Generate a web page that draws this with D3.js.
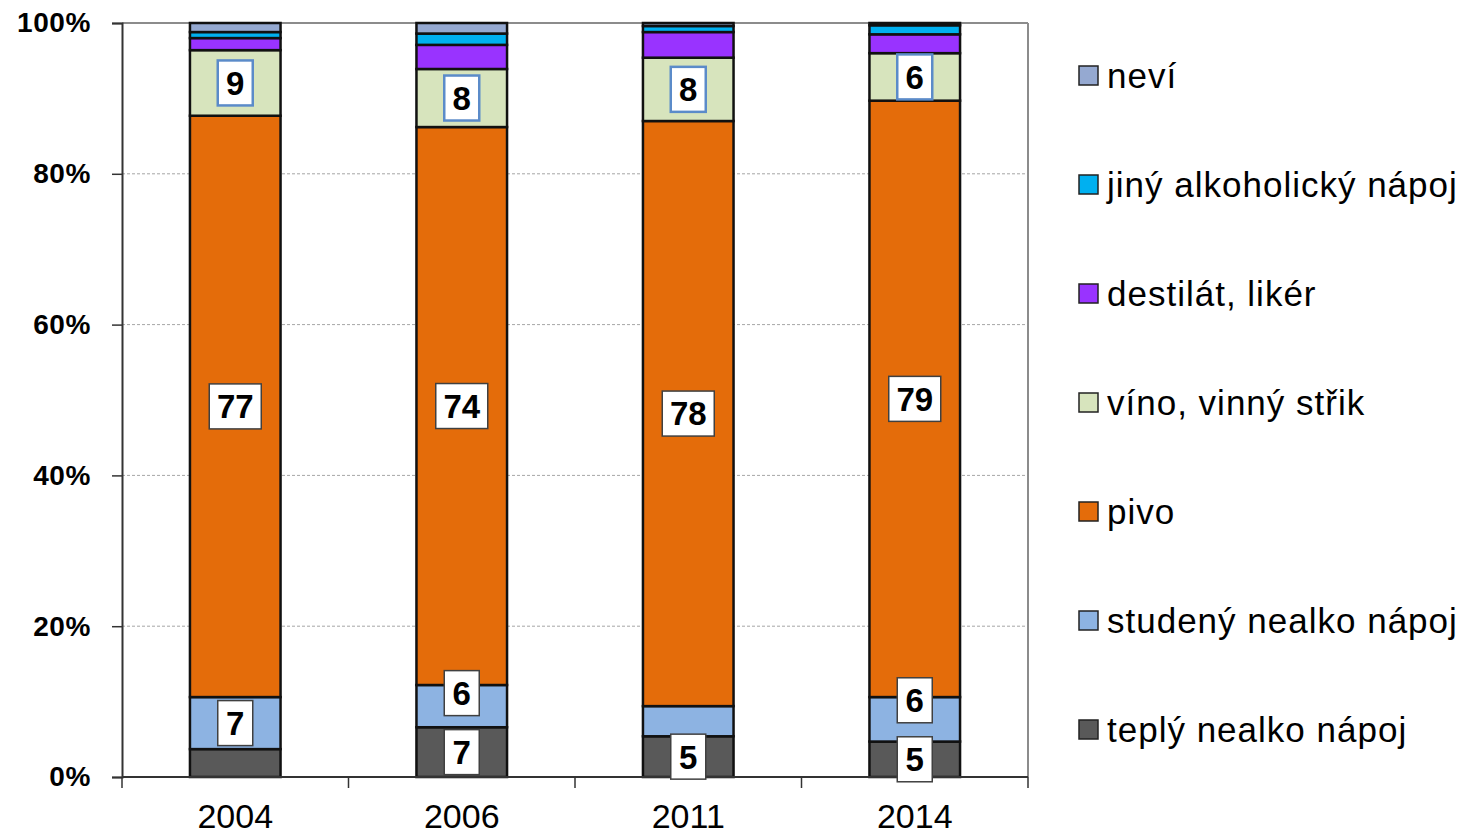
<!DOCTYPE html>
<html>
<head>
<meta charset="utf-8">
<script src="https://cdn.jsdelivr.net/npm/d3@7"></script>
<style>
  body { margin: 0; background: #fff; }
  text { font-family: "Liberation Sans", Arial, sans-serif; }
</style>
</head>
<body>
<svg id="chart" width="1468" height="835"></svg>
<script>
// categories (x axis)
const years = ['2004', '2006', '2011', '2014'];

// series values in %, bottom to top
const teply    = [3.7, 6.6, 5.4, 4.7];
const studeny  = [6.9, 5.6, 4.0, 5.9];
const pivo     = [77.1, 74.0, 77.6, 79.1];
const vino     = [8.7, 7.7, 8.4, 6.3];
const destilat = [1.6, 3.2, 3.4, 2.5];
const jiny     = [0.8, 1.5, 0.8, 1.2];
const nevi     = [1.2, 1.4, 0.4, 0.3];

const seriesNames = ['teplý nealko nápoj', 'studený nealko nápoj', 'pivo',
  'víno, vinný střik', 'destilát, likér', 'jiný alkoholický nápoj', 'neví'];
const seriesValues = [teply, studeny, pivo, vino, destilat, jiny, nevi];
const seriesColors = ['#595959', '#8db3e2', '#e46c0a', '#d7e4bd', '#9933ff', '#00b0f0', '#95a9d1'];

const yTicks = [0, 20, 40, 60, 80, 100];

const svg = d3.select('#chart');
const margin = { left: 122, right: 440, top: 23, bottom: 58 };
const width = 1468, height = 835;
const plotW = width - margin.left - margin.right;
const plotH = height - margin.top - margin.bottom;

const g = svg.append('g').attr('transform', `translate(${margin.left},${margin.top})`);

const x = d3.scaleBand().domain(years).range([0, plotW]).paddingInner(0.6).paddingOuter(0.3);
const y = d3.scaleLinear().domain([0, 100]).range([plotH, 0]);

// build table for the stack
const keys = seriesNames;
const table = years.map((yr, i) => {
  const row = { year: yr };
  keys.forEach((k, j) => { row[k] = seriesValues[j][i]; });
  return row;
});
const stacked = d3.stack().keys(keys)(table);

// gridlines
g.append('g')
  .selectAll('line')
  .data(yTicks.filter(t => t > 0 && t < 100))
  .enter().append('line')
  .attr('x1', 0).attr('x2', plotW)
  .attr('y1', d => y(d)).attr('y2', d => y(d))
  .attr('stroke', '#a6a6a6')
  .attr('stroke-width', 1)
  .attr('stroke-dasharray', '3,2');

// plot border top + right
g.append('line').attr('x1', 0).attr('x2', plotW).attr('y1', 0).attr('y2', 0)
  .attr('stroke', '#8c8c8c').attr('stroke-width', 2);
g.append('line').attr('x1', plotW).attr('x2', plotW).attr('y1', 0).attr('y2', plotH)
  .attr('stroke', '#8c8c8c').attr('stroke-width', 2);

// bars
const layer = g.append('g').selectAll('g')
  .data(stacked)
  .enter().append('g')
  .attr('fill', (d, i) => seriesColors[i]);

layer.selectAll('rect')
  .data(d => d)
  .enter().append('rect')
  .attr('x', d => x(d.data.year))
  .attr('width', x.bandwidth())
  .attr('y', d => y(d[1]))
  .attr('height', d => y(d[0]) - y(d[1]))
  .attr('stroke', '#111')
  .attr('stroke-width', 2.5);

// y axis
const yAxis = g.append('g')
  .call(d3.axisLeft(y).tickValues(yTicks).tickSize(10).tickPadding(21).tickFormat(d => d + '%'));
yAxis.select('.domain').attr('stroke', '#333').attr('stroke-width', 2);
yAxis.selectAll('.tick line').attr('stroke', '#333').attr('stroke-width', 1.5);
yAxis.selectAll('text')
  .attr('fill', '#000')
  .style('font-size', '28px')
  .style('font-weight', 'bold')
  .style('letter-spacing', '0.6px');

// x axis with ticks between categories
const xAxis = g.append('g').attr('transform', `translate(0,${plotH})`);
xAxis.append('line').attr('x1', 0).attr('x2', plotW).attr('stroke', '#333').attr('stroke-width', 2);
const step = plotW / years.length;
xAxis.selectAll('.sep')
  .data(d3.range(years.length + 1))
  .enter().append('line')
  .attr('x1', d => d * step).attr('x2', d => d * step)
  .attr('y1', 0).attr('y2', 11)
  .attr('stroke', '#333').attr('stroke-width', 1.5);
xAxis.selectAll('.lbl')
  .data(years)
  .enter().append('text')
  .attr('x', d => x(d) + x.bandwidth() / 2)
  .attr('y', 51)
  .attr('text-anchor', 'middle')
  .style('font-size', '34px')
  .attr('fill', '#000')
  .text(d => d);

// data labels (only values that round to 5 or more)
const labelData = [];
stacked.forEach((s, si) => {
  s.forEach(d => {
    const v = Math.round(d[1] - d[0]);
    if (v >= 5) labelData.push({ si, year: d.data.year, v, cy: y((d[0] + d[1]) / 2) });
  });
});

// push a label up when it sits too close to the label below it
const boxH = 45, gap = 14;
years.forEach(yr => {
  const list = labelData.filter(d => d.year === yr).sort((a, b) => b.cy - a.cy);
  for (let i = 1; i < list.length; i++) {
    const limit = list[i - 1].cy - boxH - gap;
    if (list[i].cy > limit) list[i].cy = limit;
  }
});

const lbl = g.append('g').selectAll('g')
  .data(labelData)
  .enter().append('g')
  .attr('transform', d => `translate(${x(d.year) + x.bandwidth() / 2},${d.cy})`);

const halfW = d => String(d.v).length === 1 ? 17.5 : 26;
lbl.append('rect')
  .attr('x', d => -halfW(d))
  .attr('width', d => halfW(d) * 2)
  .attr('y', -boxH / 2)
  .attr('height', boxH)
  .attr('fill', '#fff')
  .attr('stroke', d => d.si === 3 ? '#5b8bc9' : '#404040')
  .attr('stroke-width', d => d.si === 3 ? 2.5 : 1.5);

lbl.append('text')
  .attr('text-anchor', 'middle')
  .attr('dy', '0.36em')
  .style('font-size', '33px')
  .style('font-weight', 'bold')
  .attr('fill', '#000')
  .text(d => d.v);

// legend, top entry is last series
const legendItems = seriesNames.map((n, i) => ({ n, c: seriesColors[i] })).reverse();
const legend = svg.append('g').attr('transform', 'translate(1079,75)');
const item = legend.selectAll('g')
  .data(legendItems)
  .enter().append('g')
  .attr('transform', (d, i) => `translate(0,${i * 109})`);
item.append('rect')
  .attr('x', 0).attr('y', -9)
  .attr('width', 19).attr('height', 19)
  .attr('fill', d => d.c)
  .attr('stroke', '#222')
  .attr('stroke-width', 1.5);
item.append('text')
  .attr('x', 28)
  .attr('dy', '0.36em')
  .style('font-size', '35px')
  .style('letter-spacing', '1px')
  .attr('fill', '#000')
  .text(d => d.n);
</script>
</body>
</html>
